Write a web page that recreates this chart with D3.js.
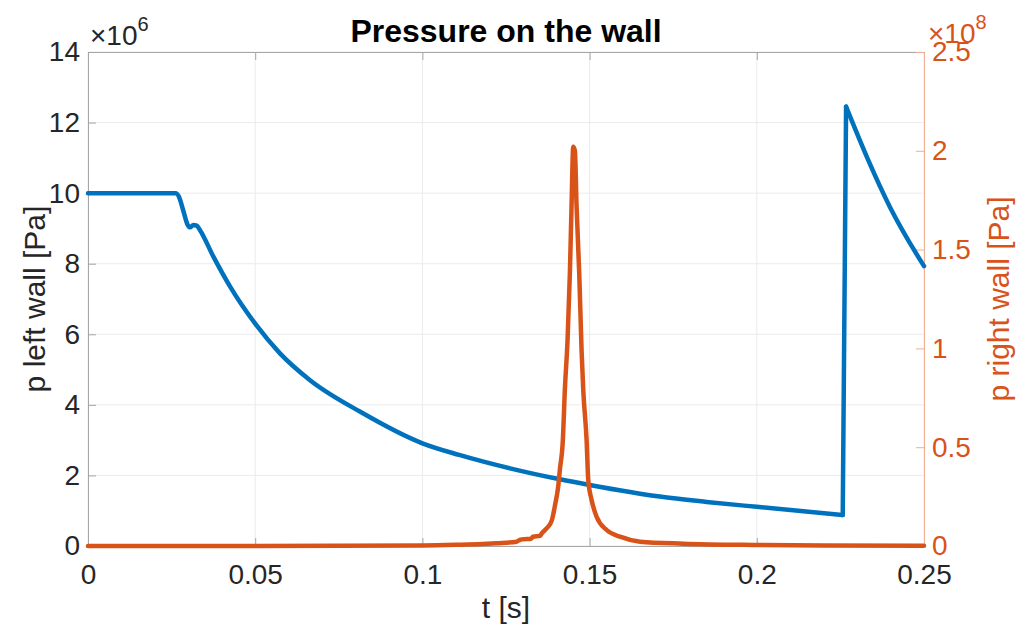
<!DOCTYPE html>
<html>
<head>
<meta charset="utf-8">
<script src="https://cdn.jsdelivr.net/npm/d3@7"></script>
<style>
  body { margin: 0; background: #fff; }
  text { font-family: "Liberation Sans", Arial, sans-serif; }
</style>
</head>
<body>
<svg id="chart"></svg>
<script>
const W = 1022, H = 633;
const margin = {top: 52, right: 98, bottom: 87, left: 88};

// left wall pressure [Pa] (x1e6)
const tLeft = [0, 0.0262, 0.0272, 0.0285, 0.0298, 0.0305, 0.0315, 0.0325, 0.0335, 0.0375, 0.0425, 0.05,
  0.0574, 0.0664, 0.0813, 0.1, 0.111, 0.1262, 0.1411, 0.15, 0.171, 0.185, 0.2, 0.2257,
  0.2267, 0.2329, 0.2398, 0.25];
const pLeft = [10, 10, 9.9, 9.5, 9.1, 9.03, 9.1, 9.08, 8.95, 8.2, 7.35, 6.3,
  5.46, 4.70, 3.81, 2.91, 2.58, 2.20, 1.89, 1.73, 1.40, 1.25, 1.11, 0.88,
  12.45, 11.03, 9.61, 7.93];

// right wall pressure [Pa] (x1e8)
const tRight = [0, 0.05, 0.1, 0.11, 0.118, 0.1222, 0.1282, 0.1290, 0.1301, 0.1325, 0.1331, 0.1352, 0.1357,
  0.1372, 0.1387, 0.1397, 0.1406, 0.1411, 0.1420, 0.1426, 0.1434, 0.1441, 0.1446, 0.1451, 0.1456,
  0.1461, 0.1469, 0.1476, 0.1481, 0.1491, 0.1496, 0.1506, 0.1521, 0.1551, 0.1591, 0.1651, 0.178,
  0.2, 0.22, 0.25];
const pRight = [0, 0.0005, 0.003, 0.006, 0.01, 0.014, 0.022, 0.030, 0.034, 0.037, 0.047, 0.052, 0.064,
  0.09, 0.13, 0.21, 0.30, 0.385, 0.536, 0.79, 1.04, 1.38, 1.72, 2.02, 2.0,
  1.72, 1.38, 0.99, 0.79, 0.536, 0.334, 0.233, 0.148, 0.081, 0.047, 0.022, 0.012,
  0.005, 0.002, 0.001];

const xTicks = [0, 0.05, 0.1, 0.15, 0.2, 0.25];
const xTickLabels = ["0", "0.05", "0.1", "0.15", "0.2", "0.25"];
const yLeftTicks = [0, 2, 4, 6, 8, 10, 12, 14];
const yRightTicks = [0, 0.5, 1, 1.5, 2, 2.5];
const yRightTickLabels = ["0", "0.5", "1", "1.5", "2", "2.5"];

const blue = "#0072BD", orange = "#D95319", ink = "#262626";

const svg = d3.select("#chart").attr("width", W).attr("height", H);

const x = d3.scaleLinear().domain([0, 0.25]).range([margin.left, W - margin.right]);
const yL = d3.scaleLinear().domain([0, 14]).range([H - margin.bottom, margin.top]);
const yR = d3.scaleLinear().domain([0, 2.5]).range([H - margin.bottom, margin.top]);

const x0 = x.range()[0], x1 = x.range()[1], yb = yL.range()[0], yt = yL.range()[1];

// grid
svg.append("g").selectAll("line").data(xTicks).enter().append("line")
  .attr("x1", d => x(d)).attr("x2", d => x(d)).attr("y1", yt).attr("y2", yb)
  .attr("stroke", "#ebebeb").attr("stroke-width", 1);
svg.append("g").selectAll("line").data(yLeftTicks).enter().append("line")
  .attr("x1", x0).attr("x2", x1).attr("y1", d => yL(d)).attr("y2", d => yL(d))
  .attr("stroke", "#ebebeb").attr("stroke-width", 1);

// axes
const xAxis = d3.axisBottom(x).tickValues(xTicks).tickFormat((d, i) => xTickLabels[i])
  .tickSizeInner(-8).tickSizeOuter(0).tickPadding(18);
const gx = svg.append("g").attr("transform", `translate(0,${yb})`).call(xAxis);
const xTop = d3.axisTop(x).tickValues(xTicks).tickFormat("").tickSizeInner(-8).tickSizeOuter(0);
const gxt = svg.append("g").attr("transform", `translate(0,${yt})`).call(xTop);
const yAxisL = d3.axisLeft(yL).tickValues(yLeftTicks).tickSizeInner(-8).tickSizeOuter(0).tickPadding(8);
const gyl = svg.append("g").attr("transform", `translate(${x0},0)`).call(yAxisL);
const yAxisR = d3.axisRight(yR).tickValues(yRightTicks).tickFormat((d, i) => yRightTickLabels[i])
  .tickSizeInner(-8).tickSizeOuter(0).tickPadding(8);
const gyr = svg.append("g").attr("transform", `translate(${x1},0)`).call(yAxisR);

[gx, gxt, gyl].forEach(g => {
  g.select(".domain").attr("stroke", "#a6a6a6").attr("stroke-width", 1);
  g.selectAll(".tick line").attr("stroke", "#a6a6a6");
  g.selectAll("text").attr("fill", ink).style("font-size", "28px");
});
gyr.select(".domain").attr("stroke", "#efb191").attr("stroke-width", 1);
gyr.selectAll(".tick line").attr("stroke", "#efb191");
gyr.selectAll("text").attr("fill", orange).style("font-size", "28px");
gx.selectAll("text").attr("dy", "0.71em");

// lines: blue drawn in pieces so the jump stays a sharp vertical edge
const lineL = d3.line().x(i => x(tLeft[i])).y(i => yL(pLeft[i])).curve(d3.curveMonotoneX);
const jump = tLeft.findIndex((t, i) => i > 0 && pLeft[i] - pLeft[i - 1] > 5);
const pieces = [d3.range(0, jump), [jump - 1, jump], d3.range(jump, tLeft.length)];
svg.append("g").selectAll("path").data(pieces).enter().append("path")
  .attr("d", lineL)
  .attr("fill", "none").attr("stroke", blue).attr("stroke-width", 4.5)
  .attr("stroke-linejoin", "round").attr("stroke-linecap", "round");

const lineR = d3.line().x((d, i) => x(tRight[i])).y(d => yR(d)).curve(d3.curveMonotoneX);
svg.append("path").datum(pRight).attr("d", lineR)
  .attr("fill", "none").attr("stroke", orange).attr("stroke-width", 4.5)
  .attr("stroke-linejoin", "round").attr("stroke-linecap", "round");

// title and labels
svg.append("text").attr("x", (x0 + x1) / 2).attr("y", 42).attr("text-anchor", "middle")
  .attr("fill", "#000").style("font-size", "32px").style("font-weight", "bold")
  .text("Pressure on the wall");
svg.append("text").attr("x", (x0 + x1) / 2).attr("y", 618).attr("text-anchor", "middle")
  .attr("fill", ink).style("font-size", "30px").text("t [s]");
svg.append("text").attr("transform", `translate(45,${(yt + yb) / 2}) rotate(-90)`)
  .attr("text-anchor", "middle").attr("fill", ink).style("font-size", "30px")
  .text("p left wall [Pa]");
svg.append("text").attr("transform", `translate(1009,${(yt + yb) / 2}) rotate(-90)`)
  .attr("text-anchor", "middle").attr("fill", orange).style("font-size", "30px")
  .text("p right wall [Pa]");

// exponent labels
const expL = svg.append("text").attr("x", 90).attr("y", 45).attr("fill", ink).style("font-size", "28px");
expL.append("tspan").text("\u00d710");
expL.append("tspan").attr("dy", -14).style("font-size", "20px").text("6");
const expR = svg.append("text").attr("x", 928).attr("y", 43).attr("fill", orange).style("font-size", "28px");
expR.append("tspan").text("\u00d710");
expR.append("tspan").attr("dy", -14).style("font-size", "20px").text("8");
</script>
</body>
</html>
